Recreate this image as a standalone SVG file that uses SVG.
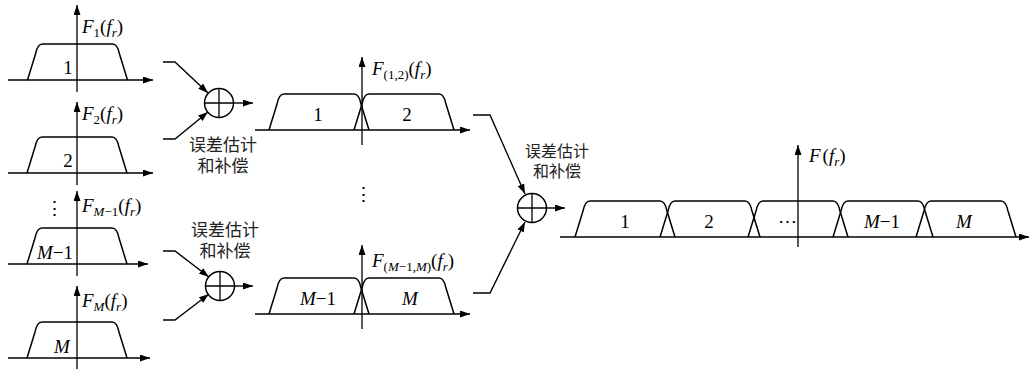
<svg xmlns="http://www.w3.org/2000/svg" xmlns:xlink="http://www.w3.org/1999/xlink" width="1030" height="369" viewBox="0 0 1030 369">
<style>
.ax{stroke:#000;stroke-width:1.3;fill:none}
.tr{stroke:#000;stroke-width:1.5;fill:none}
.cn{stroke:#000;stroke-width:1.4;fill:none}
.lb{font-family:'Liberation Serif','Times New Roman',serif;font-size:19px;fill:#000}
.it{font-style:italic}
.sb{font-size:13px}
.cj{font-family:'Noto Sans CJK SC',sans-serif;font-size:17px;fill:#222;text-anchor:middle}
.ct{text-anchor:middle}
</style>
<defs>
<marker id="ah" markerUnits="userSpaceOnUse" markerWidth="10" markerHeight="7" refX="10" refY="3.5" orient="auto">
<path d="M0,0 L10,3.5 L0,7 z" fill="#000"/>
</marker>
<path id="trap" d="M0 0 L8 -26 Q10 -36 15 -36 L85 -36 Q90 -36 92 -26 L100 0"/>
<g id="sumsym">
<circle cx="0" cy="0" r="14.5" fill="none" stroke="#000" stroke-width="1.5"/>
<path d="M-14.5 0 H14.5 M0 -14.5 V14.5" stroke="#000" stroke-width="1.3"/>
</g>
</defs>

<g id="panel1">
<line class="ax" x1="8" y1="80" x2="153" y2="80" marker-end="url(#ah)"/>
<line class="ax" x1="77" y1="92" x2="77" y2="5" marker-end="url(#ah)"/>
<use href="#trap" x="27.5" y="80" class="tr"/>
<text class="lb ct" x="68" y="74">1</text>
<text class="lb" x="82" y="33"><tspan class="it">F</tspan><tspan class="sb" dy="4">1</tspan><tspan dy="-4">(</tspan><tspan class="it">f</tspan><tspan class="sb it" dy="4">r</tspan><tspan dy="-4">)</tspan></text>
</g>

<g id="panel2">
<line class="ax" x1="8" y1="173" x2="153" y2="173" marker-end="url(#ah)"/>
<line class="ax" x1="77" y1="185" x2="77" y2="102" marker-end="url(#ah)"/>
<use href="#trap" x="27" y="173" class="tr"/>
<text class="lb ct" x="68" y="167">2</text>
<text class="lb" x="82" y="120"><tspan class="it">F</tspan><tspan class="sb" dy="4">2</tspan><tspan dy="-4">(</tspan><tspan class="it">f</tspan><tspan class="sb it" dy="4">r</tspan><tspan dy="-4">)</tspan></text>
</g>

<text class="lb ct" x="54" y="215">⋮</text>

<g id="panel3">
<line class="ax" x1="8" y1="264" x2="148" y2="264" marker-end="url(#ah)"/>
<line class="ax" x1="77" y1="276" x2="77" y2="191" marker-end="url(#ah)"/>
<use href="#trap" x="27" y="264" class="tr"/>
<text class="lb ct" x="55" y="259"><tspan class="it">M</tspan>−1</text>
<text class="lb" x="82" y="212"><tspan class="it">F</tspan><tspan class="sb" dy="4"><tspan class="it">M</tspan>−1</tspan><tspan dy="-4">(</tspan><tspan class="it">f</tspan><tspan class="sb it" dy="4">r</tspan><tspan dy="-4">)</tspan></text>
</g>

<g id="panel4">
<line class="ax" x1="8" y1="358" x2="150" y2="358" marker-end="url(#ah)"/>
<line class="ax" x1="77" y1="369" x2="77" y2="286" marker-end="url(#ah)"/>
<use href="#trap" x="27" y="358" class="tr"/>
<text class="lb ct it" x="62" y="353">M</text>
<text class="lb" x="82" y="307"><tspan class="it">F</tspan><tspan class="sb it" dy="4">M</tspan><tspan dy="-4">(</tspan><tspan class="it">f</tspan><tspan class="sb it" dy="4">r</tspan><tspan dy="-4">)</tspan></text>
</g>

<g id="sum1">
<use href="#sumsym" x="219" y="103"/>
<text class="cj" x="223" y="151">误差估计</text>
<text class="cj" x="223" y="172">和补偿</text>
</g>

<g id="sum2">
<use href="#sumsym" x="220" y="286"/>
<text class="cj" x="225" y="236">误差估计</text>
<text class="cj" x="225" y="257">和补偿</text>
</g>

<g id="mid1">
<line class="ax" x1="255" y1="130" x2="470" y2="130" marker-end="url(#ah)"/>
<line class="ax" x1="362" y1="145" x2="362" y2="57" marker-end="url(#ah)"/>
<use href="#trap" x="269" y="130" class="tr"/>
<use href="#trap" x="354" y="130" class="tr"/>
<text class="lb ct" x="318" y="121">1</text>
<text class="lb ct" x="407" y="121">2</text>
<text class="lb" x="372" y="75"><tspan class="it">F</tspan><tspan class="sb" dy="4">(1,2)</tspan><tspan dy="-4">(</tspan><tspan class="it">f</tspan><tspan class="sb it" dy="4">r</tspan><tspan dy="-4">)</tspan></text>
</g>

<text class="lb ct" x="363" y="201">⋮</text>

<g id="mid2">
<line class="ax" x1="255" y1="314" x2="470" y2="314" marker-end="url(#ah)"/>
<line class="ax" x1="362" y1="329" x2="362" y2="245" marker-end="url(#ah)"/>
<use href="#trap" x="269" y="314" class="tr"/>
<use href="#trap" x="354" y="314" class="tr"/>
<text class="lb ct" x="318" y="305"><tspan class="it">M</tspan>−1</text>
<text class="lb ct it" x="410" y="305">M</text>
<text class="lb" x="372" y="267"><tspan class="it">F</tspan><tspan class="sb" dy="4">(<tspan class="it">M</tspan>−1,<tspan class="it">M</tspan>)</tspan><tspan dy="-4">(</tspan><tspan class="it">f</tspan><tspan class="sb it" dy="4">r</tspan><tspan dy="-4">)</tspan></text>
</g>

<g id="sum3">
<use href="#sumsym" x="532" y="208"/>
<text class="cj" x="557" y="157" style="font-size:16px">误差估计</text>
<text class="cj" x="557" y="177" style="font-size:16px">和补偿</text>
</g>

<g id="result">
<line class="ax" x1="560" y1="237" x2="1029" y2="237" marker-end="url(#ah)"/>
<line class="ax" x1="798" y1="247" x2="798" y2="145" marker-end="url(#ah)"/>
<use href="#trap" x="575" y="237" class="tr"/>
<use href="#trap" x="660" y="237" class="tr"/>
<use href="#trap" x="748" y="237" class="tr"/>
<use href="#trap" x="833" y="237" class="tr"/>
<use href="#trap" x="916" y="237" class="tr"/>
<text class="lb ct" x="625" y="228">1</text>
<text class="lb ct" x="709" y="228">2</text>
<text class="lb ct" x="787" y="228">⋯</text>
<text class="lb ct" x="882" y="228"><tspan class="it">M</tspan>−1</text>
<text class="lb ct it" x="964" y="228">M</text>
<text class="lb" x="809" y="162"><tspan class="it">F</tspan><tspan dx="2">(</tspan><tspan class="it">f</tspan><tspan class="sb it" dy="4">r</tspan><tspan dy="-4">)</tspan></text>
</g>

<g id="connectors">
<polyline class="cn" points="163,62 175,62 208,93" marker-end="url(#ah)"/>
<polyline class="cn" points="163,139 175,139 208,112" marker-end="url(#ah)"/>
<line class="cn" x1="233.5" y1="103" x2="253" y2="103" marker-end="url(#ah)"/>
<polyline class="cn" points="163,251 175,251 209,277" marker-end="url(#ah)"/>
<polyline class="cn" points="163,320 175,320 209,294" marker-end="url(#ah)"/>
<line class="cn" x1="234.5" y1="286" x2="253" y2="286" marker-end="url(#ah)"/>
<polyline class="cn" points="473,115 490,115 525,194" marker-end="url(#ah)"/>
<polyline class="cn" points="473,293 490,293 525,222" marker-end="url(#ah)"/>
<line class="cn" x1="546.5" y1="208" x2="565" y2="208" marker-end="url(#ah)"/>
</g>
</svg>
